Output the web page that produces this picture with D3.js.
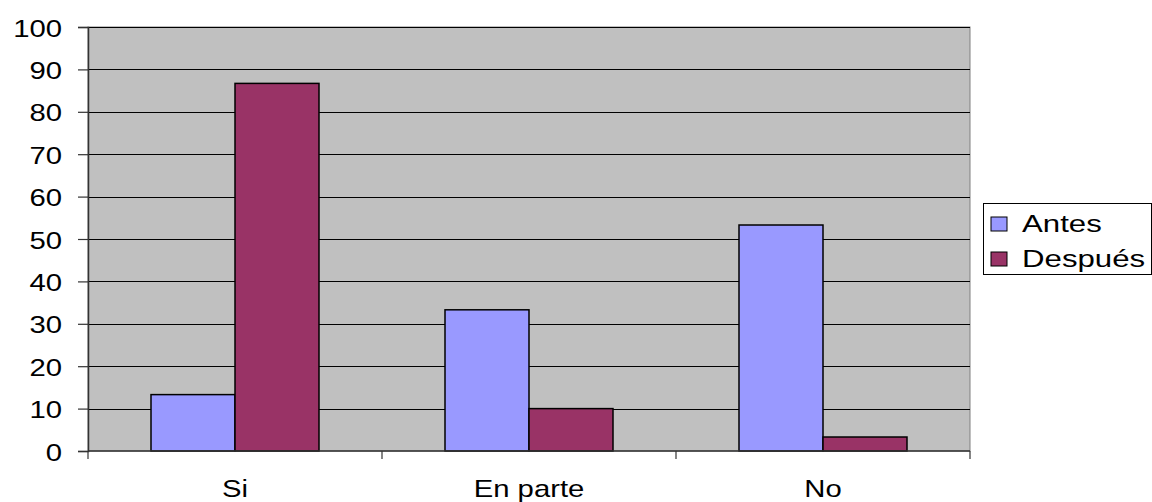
<!DOCTYPE html>
<html>
<head>
<meta charset="utf-8">
<script src="https://cdn.jsdelivr.net/npm/d3@7"></script>
<style>
  html, body { margin: 0; padding: 0; background: #fff; }
  svg { display: block; }
  text { font-family: "Liberation Sans", Arial, sans-serif; fill: #000; }
</style>
</head>
<body>
<svg id="chart" width="1152" height="502"></svg>
<script>
const categories = ["Si", "En parte", "No"];
const seriesNames = ["Antes", "Después"];
const antes = [13.3, 33.3, 53.3];
const despues = [86.7, 10, 3.3];
const yTicks = [0, 10, 20, 30, 40, 50, 60, 70, 80, 90, 100];
const colors = ["#9999FF", "#993366"];

(function () {
const seriesValues = [antes, despues];
const svg = d3.select("#chart");
const pLeft = 88, pRight = 970, pTop = 27, pBottom = 451;
const fontSize = 24, sx = 1.22;

const x0 = d3.scaleBand().domain(categories).range([pLeft, pRight]).padding(0);
const x1 = d3.scaleBand().domain(seriesNames).range([0, x0.bandwidth()]).paddingInner(0).paddingOuter(0.75);
const y = d3.scaleLinear().domain([0, 100]).range([pBottom, pTop]);

// plot background
svg.append("rect").attr("x", pLeft).attr("y", pTop).attr("width", pRight - pLeft).attr("height", pBottom - pTop)
  .attr("fill", "#C0C0C0").attr("stroke", "#808080").attr("stroke-width", 1);

// gridlines
svg.append("g").selectAll("line").data(yTicks.filter(d => d > 0)).join("line")
  .attr("x1", pLeft).attr("x2", pRight)
  .attr("y1", d => Math.round(y(d)) + 0.5).attr("y2", d => Math.round(y(d)) + 0.5)
  .attr("stroke", "#000").attr("stroke-width", 1);

// bars
const groups = svg.append("g").selectAll("g").data(categories).join("g")
  .attr("transform", c => `translate(${x0(c)},0)`);
groups.selectAll("rect").data((c, i) => seriesNames.map((s, j) => ({ s, j, v: seriesValues[j][i] })))
  .join("rect")
  .attr("x", d => x1(d.s)).attr("width", x1.bandwidth())
  .attr("y", d => y(d.v)).attr("height", d => y(0) - y(d.v))
  .attr("fill", d => colors[d.j]).attr("stroke", "#000").attr("stroke-width", 1.5);

// y axis
const yAxis = svg.append("g").attr("transform", `translate(${pLeft},0)`)
  .call(d3.axisLeft(y).tickValues(yTicks).tickSize(10).tickPadding(0).tickFormat(d3.format("d")));
yAxis.select(".domain").attr("stroke", "#333").attr("stroke-width", 1.5);
yAxis.selectAll(".tick line").attr("stroke", "#333").attr("stroke-width", 1.2);
yAxis.selectAll(".tick text").remove();
yAxis.selectAll(".tick").append("text")
  .attr("text-anchor", "end")
  .attr("transform", `translate(-26,9) scale(${sx},1)`)
  .attr("font-size", fontSize)
  .text(d => d);

// x axis
const xAxis = svg.append("g").attr("transform", `translate(0,${pBottom})`);
xAxis.append("line").attr("x1", pLeft).attr("x2", pRight).attr("y1", 0).attr("y2", 0)
  .attr("stroke", "#333").attr("stroke-width", 1.5);
const boundaries = categories.map(c => x0(c)).concat([x0(categories[categories.length - 1]) + x0.bandwidth()]);
xAxis.selectAll("line.tk").data(boundaries).join("line").attr("class", "tk")
  .attr("x1", d => d).attr("x2", d => d).attr("y1", 0).attr("y2", 8)
  .attr("stroke", "#333").attr("stroke-width", 1.2);
xAxis.selectAll("text").data(categories).join("text")
  .attr("text-anchor", "middle")
  .attr("transform", c => `translate(${x0(c) + x0.bandwidth() / 2},46) scale(${sx},1)`)
  .attr("font-size", fontSize)
  .text(c => c);

// legend
const lg = svg.append("g");
lg.append("rect").attr("x", 983.5).attr("y", 203.5).attr("width", 168).attr("height", 71)
  .attr("fill", "#fff").attr("stroke", "#000").attr("stroke-width", 1);
const items = lg.selectAll("g").data(seriesNames).join("g")
  .attr("transform", (d, i) => `translate(991,${217 + i * 35})`);
items.append("rect").attr("x", 0).attr("y", 0).attr("width", 16).attr("height", 14)
  .attr("fill", (d, i) => colors[i]).attr("stroke", "#000").attr("stroke-width", 1);
items.append("text")
  .attr("transform", `translate(31,15) scale(1.3,1)`)
  .attr("font-size", 24)
  .text(d => d);
})();
</script>
</body>
</html>
